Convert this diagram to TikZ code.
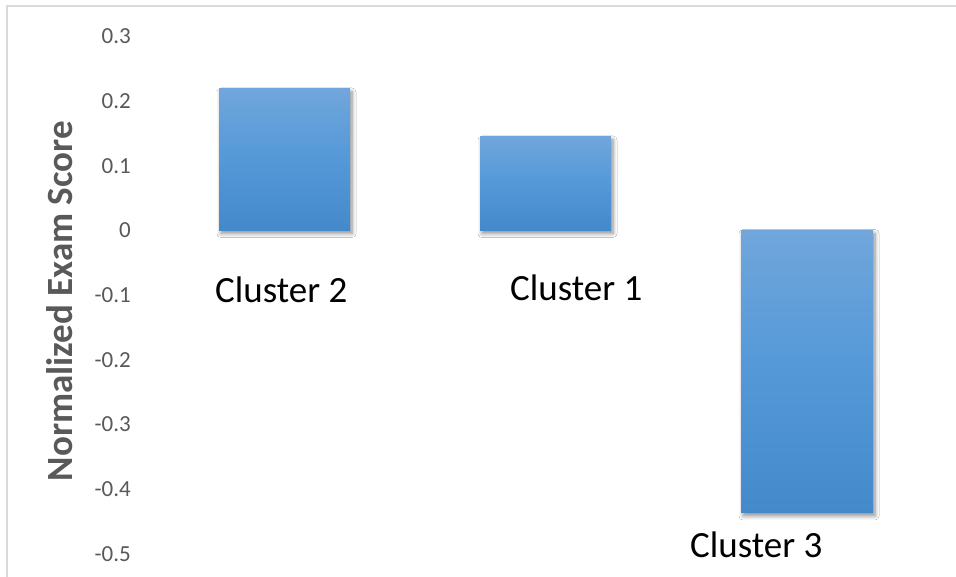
\documentclass[tikz,border=0pt]{standalone}
\usepackage{fontspec}
\setmainfont{Carlito}
\usetikzlibrary{shadows.blur}
\definecolor{framegray}{RGB}{217,217,217}
\definecolor{ticktext}{RGB}{89,89,89}
\definecolor{bartop}{RGB}{112,166,219}
\definecolor{barmid}{RGB}{84,152,216}
\definecolor{barbot}{RGB}{68,137,202}
\tikzset{
  bar/.style={top color=bartop, bottom color=barbot, middle color=barmid, draw=none,
    blur shadow={shadow xshift=2pt, shadow yshift=-3pt, shadow blur steps=6, shadow blur radius=4pt, shadow opacity=45}},
  ticklab/.style={anchor=east, text=ticktext, font=\fontsize{23}{26}\selectfont, inner sep=0pt},
  catlab/.style={anchor=base west, text=black, font=\fontsize{37}{42}\selectfont, inner sep=0pt},
  axtitle/.style={rotate=90, text=ticktext, font=\bfseries\fontsize{37}{42}\selectfont, inner sep=0pt}
}
\begin{document}
\begin{tikzpicture}[x=1pt,y=1pt]
\useasboundingbox (0,0) rectangle (956,577);
\fill[white] (0,0) rectangle (956,577);
\draw[framegray, line width=1.6pt] (7,0) -- (7,571) -- (956,571);
% tick labels
\foreach \v/\t in {0.3/0.3,0.2/0.2,0.1/0.1,0/0,-0.1/-0.1,-0.2/-0.2,-0.3/-0.3,-0.4/-0.4,-0.5/-0.5}{
  \node[ticklab] (tick\t) at (131,{346.5+647*\v}) {\t};
}
% axis title
\node[axtitle] (ytitle) at (60,276) {Normalized Exam Score};
% bars
\path[bar] (219,346.5) rectangle (350,488);
\path[bar] (480,346.5) rectangle (611,440);
\path[bar] (741,64) rectangle (873,346.5);
% category labels
\node[catlab] (c2) at (215,274) {Cluster 2};
\node[catlab] (c1) at (510,276) {Cluster 1};
\node[catlab] (c3) at (690,19) {Cluster 3};
\end{tikzpicture}
\end{document}
